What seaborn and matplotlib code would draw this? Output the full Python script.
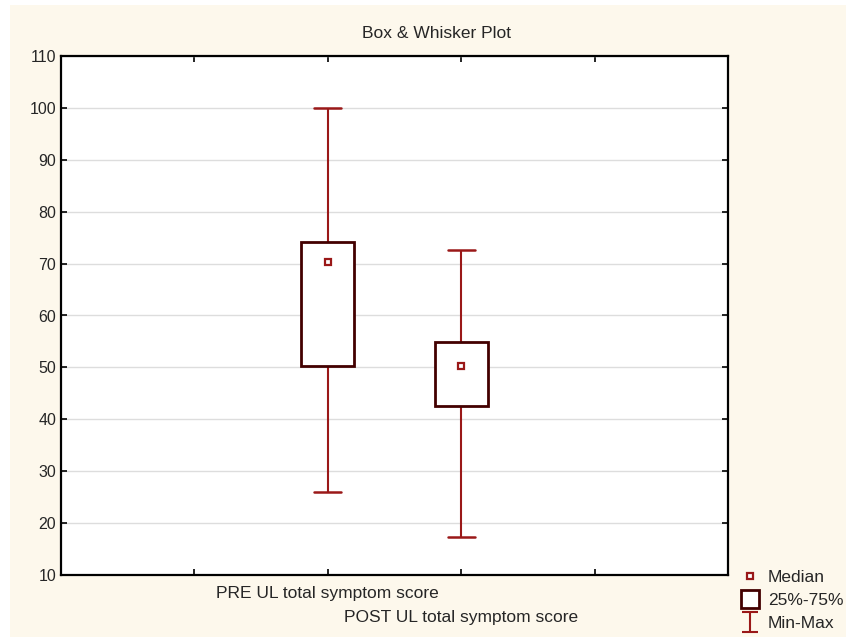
import numpy as np
import pandas as pd
import seaborn as sns
import matplotlib.pyplot as plt
from matplotlib.lines import Line2D
from matplotlib.patches import Rectangle
from matplotlib.path import Path

# box statistics: min, q1, median, q3, max
groups = ["PRE UL total symptom score", "POST UL total symptom score"]
pre_stats = [26.0, 50.2, 70.4, 74.1, 100.0]
post_stats = [17.3, 42.6, 50.3, 54.9, 72.6]

# 5 sorted values reproduce exactly these quartiles
df = pd.DataFrame({
    "group": [groups[0]] * 5 + [groups[1]] * 5,
    "score": pre_stats + post_stats,
})

box_edge = "#430000"
whisk = "#9A1818"
cream = "#FDF8EC"

sns.set_style("white")
plt.rcParams["font.family"] = ["Liberation Sans", "DejaVu Sans"]

fig = plt.figure(figsize=(8.46, 6.37), dpi=100)
fig.patch.set_facecolor("white")
fig.patches.append(Rectangle((10 / 846, 0), 1, 1 - 5 / 637, transform=fig.transFigure,
                             facecolor=cream, edgecolor="none", zorder=-10))

ax = fig.add_axes([61 / 846, 62 / 637, 667 / 846, 519 / 637])
ax.set_facecolor("white")

sns.boxplot(data=df, x="group", y="score", order=groups, ax=ax,
            whis=(0, 100), width=0.4, showfliers=False,
            color="white", linecolor=box_edge, linewidth=2,
            boxprops={"edgecolor": box_edge, "facecolor": "white", "zorder": 3},
            whiskerprops={"color": whisk, "linewidth": 1.5},
            capprops={"color": whisk, "linewidth": 1.8},
            medianprops={"visible": False})

sns.pointplot(data=df, x="group", y="score", order=groups, ax=ax,
              estimator="median", errorbar=None, linestyle="none",
              marker="s", color=whisk, markersize=4.5,
              markerfacecolor="white", markeredgewidth=1.6, zorder=5)

ax.set_xlim(-2, 3)
# PRE label on the major ticks, POST label staggered below on a minor tick
ax.xaxis.remove_overlapping_locs = False
ax.set_xticks([-1, 0, 1, 2])
ax.set_xticklabels(["", groups[0], "", ""], fontsize=12.5)
ax.set_xticks([1], minor=True)
ax.set_xticklabels([groups[1]], minor=True, fontsize=12.5)
ax.tick_params(axis="x", which="minor", length=0, pad=25)
ax.tick_params(axis="x", which="major", pad=8)
ax.set_ylim(10, 110)
ax.set_yticks(range(10, 111, 10))
ax.tick_params(axis="y", labelsize=11.5)
ax.tick_params(which="major", direction="in", length=4, width=1.2, color="black",
               top=True, right=True, bottom=True, left=True)
ax.set_xlabel("")
ax.set_ylabel("")
ax.yaxis.grid(True, color="#DDDDDD", linewidth=1)
ax.xaxis.grid(False, which="both")
ax.set_axisbelow(True)
for s in ax.spines.values():
    s.set_visible(True)
    s.set_color("black")
    s.set_linewidth(1.6)

fig.text(436 / 846, 1 - 33 / 637, "Box & Whisker Plot", ha="center", va="center", fontsize=12.5)

# I-beam marker for the min-max legend entry
ibeam = Path([(-0.8, -1), (0.8, -1), (0, -1), (0, 1), (-0.8, 1), (0.8, 1)],
             [Path.MOVETO, Path.LINETO, Path.MOVETO, Path.LINETO, Path.MOVETO, Path.LINETO])
handles = [
    Line2D([], [], ls="none", marker="s", markersize=5, markerfacecolor="white",
           markeredgecolor=whisk, markeredgewidth=1.6),
    Line2D([], [], ls="none", marker="s", markersize=13, markerfacecolor="white",
           markeredgecolor=box_edge, markeredgewidth=2),
    Line2D([], [], ls="none", marker=ibeam, markersize=15, color=whisk,
           markeredgewidth=1.5),
]
fig.legend(handles, ["Median", "25%-75%", "Min-Max"], loc="upper left",
           bbox_to_anchor=(733 / 846, 1 - 561 / 637), frameon=False, fontsize=12.5,
           handlelength=1.0, handletextpad=0.5, labelspacing=0.45, borderpad=0)

fig.savefig("out.png", dpi=100)
